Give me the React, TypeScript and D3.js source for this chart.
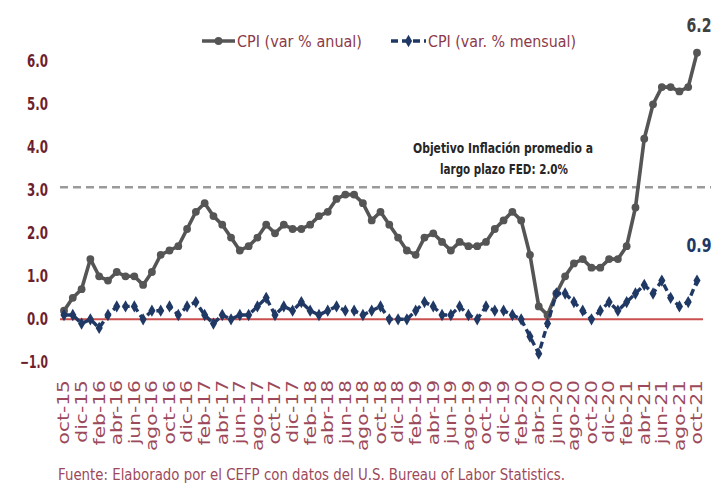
import React from 'react';
import * as d3 from 'd3';

// ---- data ----
const MONTH_ABBR = ['ene', 'feb', 'mar', 'abr', 'may', 'jun', 'jul', 'ago', 'sep', 'oct', 'nov', 'dic'];
const categories: string[] = [];
for (let y = 2015; y <= 2021; y++) {
  for (let m = 0; m < 12; m++) {
    if ((y === 2015 && m < 9) || (y === 2021 && m > 9)) continue;
    categories.push(`${MONTH_ABBR[m]}-${String(y).slice(2)}`);
  }
}

// CPI annual % change (oct-15 .. oct-21)
const cpiAnual = [
  0.2, 0.5, 0.7,
  1.4, 1.0, 0.9, 1.1, 1.0, 1.0, 0.8, 1.1, 1.5, 1.6, 1.7, 2.1,
  2.5, 2.7, 2.4, 2.2, 1.9, 1.6, 1.7, 1.9, 2.2, 2.0, 2.2, 2.1,
  2.1, 2.2, 2.4, 2.5, 2.8, 2.9, 2.9, 2.7, 2.3, 2.5, 2.2, 1.9,
  1.6, 1.5, 1.9, 2.0, 1.8, 1.6, 1.8, 1.7, 1.7, 1.8, 2.1, 2.3,
  2.5, 2.3, 1.5, 0.3, 0.1, 0.6, 1.0, 1.3, 1.4, 1.2, 1.2, 1.4,
  1.4, 1.7, 2.6, 4.2, 5.0, 5.4, 5.4, 5.3, 5.4, 6.2,
];

// CPI monthly % change
const cpiMensual = [
  0.1, 0.1, -0.1,
  0.0, -0.2, 0.1, 0.3, 0.3, 0.3, 0.0, 0.2, 0.2, 0.3, 0.1, 0.3,
  0.4, 0.1, -0.1, 0.1, 0.0, 0.1, 0.1, 0.3, 0.5, 0.1, 0.3, 0.2,
  0.4, 0.2, 0.1, 0.2, 0.3, 0.2, 0.2, 0.1, 0.2, 0.3, 0.0, 0.0,
  0.0, 0.2, 0.4, 0.3, 0.1, 0.1, 0.3, 0.1, 0.0, 0.3, 0.2, 0.2,
  0.1, 0.0, -0.4, -0.8, -0.1, 0.6, 0.6, 0.4, 0.2, 0.0, 0.2, 0.4,
  0.2, 0.4, 0.6, 0.8, 0.6, 0.9, 0.5, 0.3, 0.4, 0.9,
];

const yTicks = [6, 5, 4, 3, 2, 1, 0, -1];
const targetLevel = 3.07;
const legendLabels = ['CPI (var % anual)', 'CPI (var. % mensual)'];
const noteLines = ['Objetivo Inflación promedio a', 'largo plazo FED: 2.0%'];
const sourceText = 'Fuente: Elaborado por el CEFP con datos del U.S. Bureau of Labor Statistics.';

// ---- styles ----
const W = 726;
const H = 493;
const GREY = '#555555';
const NAVY = '#1f3864';
const MAROON = '#6e1f2e';
const LABEL = '#9c4a5b';
const FONT = "'DejaVu Sans', sans-serif";

export default function App() {
  const x = d3.scaleLinear().domain([0, categories.length - 1]).range([64, 697]);
  const y = d3.scaleLinear().domain([-1, 6]).range([319.3 + 43, 319.3 - 6 * 43]);

  const line = d3
    .line<number>()
    .x((_, i) => x(i))
    .y((d) => y(d));

  const diamond = d3.symbol().type(d3.symbolDiamond).size(44)();

  const last = categories.length - 1;

  return (
    <svg
      width={W}
      height={H}
      viewBox={`0 0 ${W} ${H}`}
      style={{ position: 'absolute', left: 0, top: 0, background: '#fff' }}
    >
      <rect width={W} height={H} fill="#fff" />

      {/* y labels */}
      {yTicks.map((t) => {
        const s = d3.format('.1f')(t);
        return (
          <text
            key={t}
            x={48}
            y={y(t)}
            dy="0.36em"
            textAnchor="end"
            fontFamily={FONT}
            fontWeight="bold"
            fontSize={17}
            fill={MAROON}
            textLength={s.length > 3 ? 28 : 21}
            lengthAdjust="spacingAndGlyphs"
          >
            {s}
          </text>
        );
      })}

      {/* target dashed line */}
      <line
        x1={60}
        x2={711}
        y1={y(targetLevel)}
        y2={y(targetLevel)}
        stroke="#9a9a9a"
        strokeWidth={2.5}
        strokeDasharray="8 5"
      />

      {/* zero line */}
      <line x1={60} x2={703} y1={y(0)} y2={y(0)} stroke="#c9504e" strokeWidth={2} />

      {/* annual line */}
      <path d={line(cpiAnual) || ''} fill="none" stroke={GREY} strokeWidth={3.6} strokeLinejoin="round" />
      {cpiAnual.map((d, i) => (
        <circle key={i} cx={x(i)} cy={y(d)} r={3.9} fill={GREY} />
      ))}

      {/* monthly line */}
      <path
        d={line(cpiMensual) || ''}
        fill="none"
        stroke={NAVY}
        strokeWidth={3.4}
        strokeDasharray="7 4"
        strokeLinejoin="round"
      />
      {cpiMensual.map((d, i) => (
        <path key={i} d={diamond || ''} transform={`translate(${x(i)},${y(d)})`} fill={NAVY} />
      ))}

      {/* x labels */}
      {categories.map((c, i) =>
        i % 2 === 0 ? (
          <text
            key={c}
            transform={`translate(${x(i)},380) scale(1,1.35) rotate(-90)`}
            textAnchor="end"
            dy="0.36em"
            fontFamily={FONT}
            fontSize={15}
            fill={LABEL}
          >
            {c}
          </text>
        ) : null
      )}

      {/* end annotations */}
      <text
        x={x(last) + 2}
        y={32}
        textAnchor="middle"
        fontFamily={FONT}
        fontWeight="bold"
        fontSize={19}
        fill="#404040"
        textLength={25}
        lengthAdjust="spacingAndGlyphs"
      >
        {d3.format('.1f')(cpiAnual[last])}
      </text>
      <text
        x={x(last) + 2}
        y={252}
        textAnchor="middle"
        fontFamily={FONT}
        fontWeight="bold"
        fontSize={19}
        fill={NAVY}
        textLength={25}
        lengthAdjust="spacingAndGlyphs"
      >
        {d3.format('.1f')(cpiMensual[last])}
      </text>

      {/* note */}
      <text
        x={503}
        y={153}
        textAnchor="middle"
        fontFamily={FONT}
        fontWeight="bold"
        fontSize={14}
        fill="#262626"
        textLength={180}
        lengthAdjust="spacingAndGlyphs"
      >
        {noteLines[0]}
      </text>
      <text
        x={504}
        y={174}
        textAnchor="middle"
        fontFamily={FONT}
        fontWeight="bold"
        fontSize={14}
        fill="#262626"
        textLength={128}
        lengthAdjust="spacingAndGlyphs"
      >
        {noteLines[1]}
      </text>

      {/* legend */}
      <g>
        <line x1={202} x2={235} y1={41} y2={41} stroke={GREY} strokeWidth={3.6} />
        <circle cx={218.5} cy={41} r={3.9} fill={GREY} />
        <text
          x={237}
          y={47}
          fontFamily={FONT}
          fontSize={16}
          fill="#8b3a4a"
          textLength={125}
          lengthAdjust="spacingAndGlyphs"
        >
          {legendLabels[0]}
        </text>
        <line
          x1={391}
          x2={426}
          y1={41}
          y2={41}
          stroke={NAVY}
          strokeWidth={3.4}
          strokeDasharray="7 4"
        />
        <path d={diamond || ''} transform="translate(408.5,41)" fill={NAVY} />
        <text
          x={428}
          y={47}
          fontFamily={FONT}
          fontSize={16}
          fill="#8b3a4a"
          textLength={148}
          lengthAdjust="spacingAndGlyphs"
        >
          {legendLabels[1]}
        </text>
      </g>

      {/* source */}
      <text
        x={58}
        y={480}
        fontFamily={FONT}
        fontSize={15}
        fill={LABEL}
        textLength={507}
        lengthAdjust="spacingAndGlyphs"
      >
        {sourceText}
      </text>
    </svg>
  );
}
